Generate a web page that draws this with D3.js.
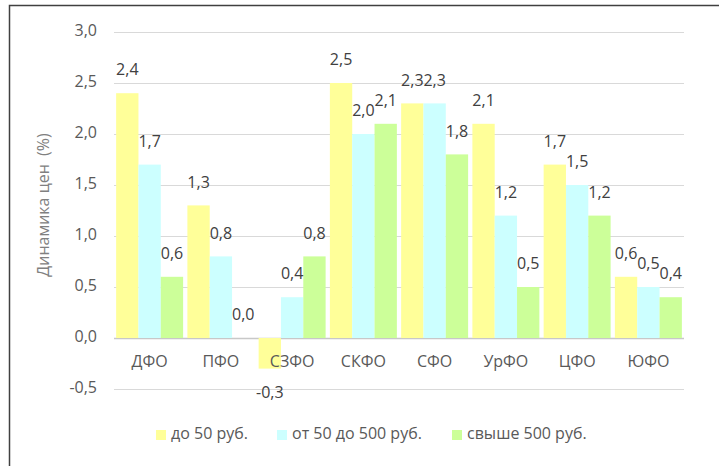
<!DOCTYPE html>
<html>
<head>
<meta charset="utf-8">
<script src="https://cdn.jsdelivr.net/npm/d3@7"></script>
<style>
  body { margin: 0; background: #fff; }
  svg { font-family: "Open Sans", "Noto Sans", sans-serif; }
</style>
</head>
<body>
<svg width="719" height="466"></svg>
<script>
// data
const regions = ["ДФО", "ПФО", "СЗФО", "СКФО", "СФО", "УрФО", "ЦФО", "ЮФО"];
const seriesNames = ["до 50 руб.", "от 50 до 500 руб.", "свыше 500 руб."];
const upTo50 = [2.4, 1.3, -0.3, 2.5, 2.3, 2.1, 1.7, 0.6];
const from50to500 = [1.7, 0.8, 0.4, 2.0, 2.3, 1.2, 1.5, 0.5];
const over500 = [0.6, 0.0, 0.8, 2.1, 1.8, 0.5, 1.2, 0.4];
const yTicks = [-0.5, 0, 0.5, 1, 1.5, 2, 2.5, 3];
const colors = ["#ffff99", "#ccffff", "#ccff99"];

const series = [upTo50, from50to500, over500];
const fmt = (v) => v.toFixed(1).replace(".", ",");
const fs = 16;

const svg = d3.select("svg");

// chart frame (left + top visible)
svg.append("path")
  .attr("d", "M9.5,466 V5.5 H719")
  .attr("fill", "none")
  .attr("stroke", "#404040")
  .attr("stroke-width", 1.5);

// cut-off title glyph at top
svg.append("text")
  .attr("x", 56)
  .attr("y", -4)
  .attr("fill", "#2e5da8")
  .attr("font-weight", "bold")
  .attr("font-size", 16)
  .text("у");

const x = d3.scaleBand().domain(regions).range([114, 684]).paddingInner(0.06).paddingOuter(0.03);
const xs = d3.scaleBand().domain([0, 1, 2]).range([0, x.bandwidth()]);
const y = d3.scaleLinear().domain([-0.5, 3]).range([389, 32]);

// gridlines
svg.append("g")
  .selectAll("line")
  .data(yTicks)
  .join("line")
  .attr("x1", 114)
  .attr("x2", 684)
  .attr("y1", (d) => Math.round(y(d)) + 0.5)
  .attr("y2", (d) => Math.round(y(d)) + 0.5)
  .attr("stroke", (d) => (d === 0 ? "#c8c8c8" : "#d9d9d9"))
  .attr("stroke-width", (d) => (d === 0 ? 1.5 : 1));

// y tick labels
svg.append("g")
  .selectAll("text")
  .data(yTicks)
  .join("text")
  .attr("x", 97)
  .attr("y", (d) => y(d))
  .attr("text-anchor", "end")
  .attr("dominant-baseline", "middle")
  .attr("font-size", fs)
  .attr("fill", "#595959")
  .text(fmt);

// bars
const groups = svg.append("g")
  .selectAll("g")
  .data(regions)
  .join("g")
  .attr("transform", (d) => "translate(" + x(d) + ",0)");

groups.selectAll("rect")
  .data((d, i) => series.map((s, k) => ({ k, v: s[i] })))
  .join("rect")
  .attr("x", (d) => xs(d.k))
  .attr("width", xs.bandwidth())
  .attr("y", (d) => y(Math.max(0, d.v)))
  .attr("height", (d) => Math.abs(y(d.v) - y(0)))
  .attr("fill", (d) => colors[d.k]);

// value labels
groups.selectAll("text")
  .data((d, i) => series.map((s, k) => ({ k, v: s[i] })))
  .join("text")
  .attr("x", (d) => xs(d.k) + xs.bandwidth() / 2)
  .attr("y", (d) => (d.v < 0 ? y(d.v) + 25 : y(d.v) - 22))
  .attr("text-anchor", "middle")
  .attr("dominant-baseline", "middle")
  .attr("font-size", fs)
  .attr("fill", "#404040")
  .text((d) => fmt(d.v));

// category labels
svg.append("g")
  .selectAll("text")
  .data(regions)
  .join("text")
  .attr("x", (d) => x(d) + x.bandwidth() / 2)
  .attr("y", 363)
  .attr("text-anchor", "middle")
  .attr("dominant-baseline", "middle")
  .attr("font-size", fs)
  .attr("fill", "#595959")
  .text((d) => d);

// y axis title
svg.append("text")
  .attr("transform", "translate(45,205) rotate(-90)")
  .attr("text-anchor", "middle")
  .attr("dominant-baseline", "middle")
  .attr("font-size", fs)
  .attr("fill", "#808080")
  .attr("xml:space", "preserve")
  .text("Динамика цен  (%)");

// legend
const legendX = [156, 277, 452];
const legend = svg.append("g")
  .selectAll("g")
  .data(seriesNames)
  .join("g")
  .attr("transform", (d, i) => "translate(" + legendX[i] + ",435)");

legend.append("rect")
  .attr("x", 0)
  .attr("y", -5)
  .attr("width", 10)
  .attr("height", 10)
  .attr("fill", (d, i) => colors[i]);

legend.append("text")
  .attr("x", 15)
  .attr("y", 0)
  .attr("dominant-baseline", "middle")
  .attr("font-size", fs)
  .attr("fill", "#595959")
  .text((d) => d);
</script>
</body>
</html>
